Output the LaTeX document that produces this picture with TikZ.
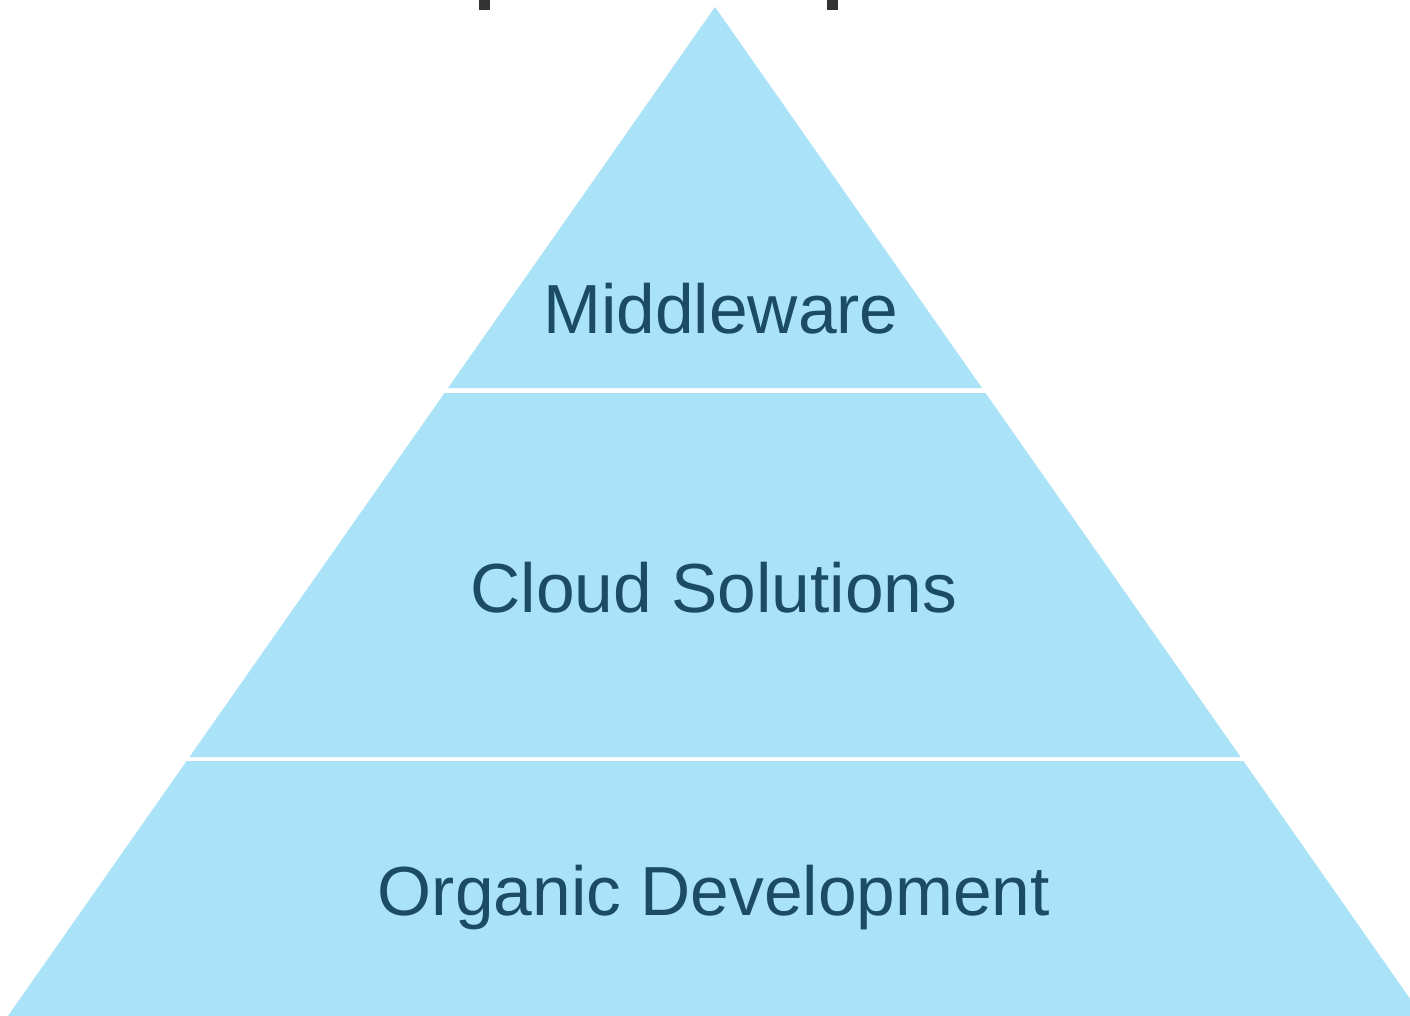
\documentclass[tikz,border=0pt]{standalone}
\usepackage{fontspec}
\setmainfont{Liberation Sans}
\definecolor{layerfill}{HTML}{AAE3F8}
\definecolor{labeltext}{HTML}{1B4C63}
\definecolor{titledark}{HTML}{333333}
\tikzset{
  layer/.style={fill=layerfill, draw=none},
  lbl/.style={text=labeltext, anchor=base, inner sep=0pt, font=\fontsize{69.5}{80}\selectfont},
  descender/.style={fill=titledark, draw=none}
}
\begin{document}
\begin{tikzpicture}[x=1pt,y=-1pt]
\useasboundingbox (0,0) rectangle (1410,1015);
\clip (0,0) rectangle (1410,1015);
\fill[white] (0,0) rectangle (1410,1015);
% title descenders (title itself lies above the frame)
\fill[descender] (479,-5) rectangle (490,10);
\fill[descender] (827,-5) rectangle (838,10);
% layers
\fill[layer] (715,7) -- (982,388) -- (448,388) -- cycle;
\fill[layer] (444.5,393) -- (985.5,393) -- (1240.6,757) -- (189.4,757) -- cycle;
\fill[layer] (186.6,761) -- (1243.4,761) -- (1481,1100) -- (-51,1100) -- cycle;
% labels
\node[lbl] (mw) at (721,333) {Middleware};
\node[lbl] (cs) at (714,612) {Cloud Solutions};
\node[lbl] (od) at (714,915) {Organic Development};
\end{tikzpicture}
\end{document}
